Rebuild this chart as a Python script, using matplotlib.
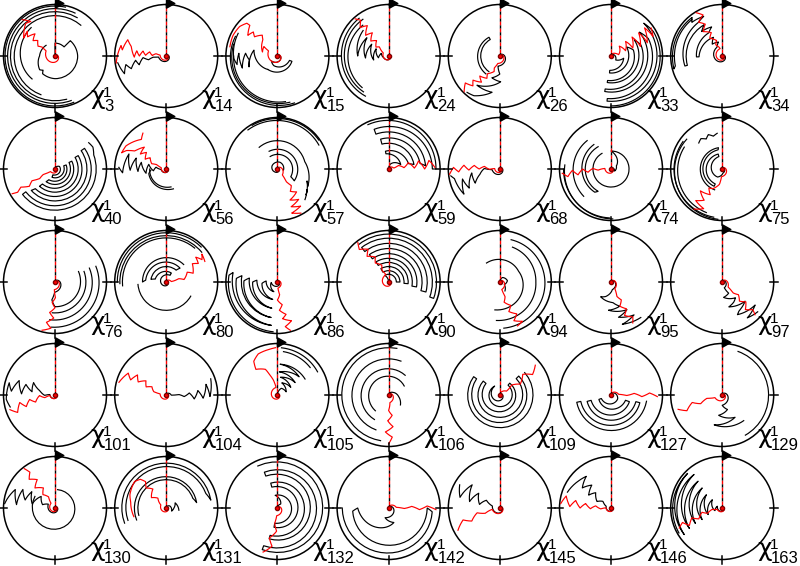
import numpy as np
import matplotlib.pyplot as plt
from matplotlib.path import Path

plt.rcParams['font.family'] = ['Liberation Sans', 'DejaVu Sans']

# residue numbers, in reading order (5 rows x 7 columns)
residues = [3, 14, 15, 24, 26, 33, 34,
            40, 56, 57, 59, 68, 74, 75,
            76, 80, 86, 90, 94, 95, 97,
            101, 104, 105, 106, 109, 127, 129,
            130, 131, 132, 142, 145, 146, 163]

# trajectories as (angle in degrees clockwise from top, radius 0..1)
chi3_red = [(0, 0), (300, 0.2), (305, 0.3), (300, 0.38), (312, 0.45), (305, 0.52), (318, 0.58), (305, 0.65),
            (312, 0.72), (300, 0.7), (318, 0.85), (325, 0.82), (318, 0.95)]
chi3_black = [[(0, 0), (0, 0.25), (45, 0.25), (45, 0.42), (90, 0.44), (180, 0.44), (215, 0.42), (220, 0.36),
               (228, 0.4), (270, 0.3), (320, 0.27)],
              [(225, 0.63), (320, 0.72)], [(200, 0.8), (400, 0.78)], [(165, 0.87), (390, 0.86)],
              [(160, 0.92), (385, 0.92)], [(158, 0.97), (372, 0.97)]]

chi14_red = [(0, 0), (278, 0.12), (283, 0.2), (272, 0.27), (284, 0.33), (272, 0.4), (282, 0.46), (270, 0.52),
             (280, 0.58), (268, 0.62), (285, 0.7), (293, 0.81), (278, 0.86), (283, 0.9), (262, 0.98)]
chi14_black = [[(0, 0), (262, 0.15), (265, 0.25), (258, 0.35), (266, 0.45), (252, 0.55), (262, 0.6), (250, 0.72),
                (258, 0.8), (247, 0.88), (262, 0.95)]]

chi15_red = [(0, 0), (300, 0.2), (305, 0.32), (285, 0.3), (318, 0.42), (324, 0.5), (310, 0.58), (315, 0.66),
             (305, 0.7), (318, 0.8), (317, 0.87), (308, 0.93), (295, 0.95), (281, 0.94)]
chi15_black = [[(0, 0), (230, 0.15), (200, 0.2), (110, 0.25), (110, 0.3), (215, 0.32)],
               [(215, 0.32), (234, 0.36), (284, 0.47), (249, 0.59), (262, 0.55), (275, 0.62), (251, 0.72),
                (274, 0.75), (258, 0.8), (267, 0.85), (300, 0.88)],
               [(295, 0.9), (160, 0.97)], [(285, 0.88), (165, 0.93)], [(270, 0.85), (170, 0.9)]]

chi24_red = [(0, 0), (300, 0.12), (315, 0.25), (305, 0.3), (322, 0.38), (310, 0.45), (325, 0.55), (312, 0.6),
             (325, 0.72), (315, 0.78), (322, 0.88), (318, 0.97)]
chi24_black = [[(0, 0), (250, 0.1), (290, 0.15), (260, 0.2), (300, 0.28), (255, 0.3), (305, 0.4), (265, 0.45),
                (310, 0.55), (270, 0.6), (315, 0.7)],
               [(320, 0.78), (220, 0.8)], [(325, 0.87), (215, 0.85)], [(322, 0.93), (210, 0.9)]]

chi26_red = [(0, 0), (195, 0.15), (205, 0.25), (200, 0.32), (215, 0.42), (210, 0.5), (225, 0.55), (215, 0.62),
             (228, 0.7), (222, 0.78), (232, 0.85), (225, 0.98)]
chi26_black = [[(215, 0.37), (330, 0.37), (330, 0.42), (218, 0.44)],
               [(0, 0), (190, 0.2), (180, 0.35), (200, 0.45), (178, 0.5), (218, 0.72), (192, 0.72), (213, 0.92),
                (222, 0.95)]]

chi33_red = [(0, 0), (60, 0.1), (80, 0.15), (40, 0.25), (70, 0.3), (45, 0.4), (70, 0.45), (48, 0.55), (72, 0.6),
             (50, 0.7), (70, 0.75), (50, 0.85), (65, 0.9), (55, 0.95)]
chi33_black = [[(0, 0), (130, 0.12), (100, 0.25), (185, 0.28), (185, 0.33), (60, 0.35), (75, 0.45), (188, 0.48),
                (188, 0.52), (55, 0.55), (70, 0.62), (190, 0.65), (190, 0.7), (50, 0.72), (65, 0.8), (185, 0.83),
                (185, 0.88), (45, 0.9), (60, 0.95), (180, 0.97)]]

chi34_red = [(0, 0), (345, 0.15), (330, 0.25), (340, 0.32), (325, 0.42), (335, 0.5), (322, 0.6), (332, 0.7),
             (325, 0.8), (335, 0.88), (329, 0.98)]
chi34_black = [[(0, 0), (330, 0.2), (345, 0.28), (320, 0.3), (335, 0.4), (268, 0.45), (268, 0.5), (330, 0.52),
                (340, 0.6), (320, 0.62), (330, 0.7), (255, 0.7), (255, 0.75), (325, 0.8), (335, 0.85),
                (318, 0.88), (322, 0.95), (255, 0.97), (258, 0.93), (320, 0.92)]]

chi40_red = [(0, 0), (240, 0.1), (245, 0.25), (238, 0.35), (243, 0.5), (236, 0.6), (242, 0.75), (238, 0.85),
             (240, 0.96)]
chi40_black = [[(0, 0), (60, 0.1), (200, 0.12), (200, 0.17), (70, 0.18), (70, 0.23), (210, 0.24), (215, 0.3),
                (65, 0.3), (65, 0.36), (220, 0.38), (222, 0.45), (60, 0.45), (60, 0.52), (225, 0.54),
                (228, 0.62), (55, 0.62), (55, 0.7), (232, 0.72), (232, 0.8), (70, 0.8), (60, 0.85), (52, 0.83)]]

chi56_red = [(0, 0), (285, 0.1), (295, 0.2), (290, 0.3), (305, 0.38), (295, 0.45), (310, 0.5), (300, 0.58),
             (315, 0.6), (300, 0.7), (295, 0.85), (290, 0.92), (300, 0.9), (320, 0.75), (327, 0.83)]
chi56_black = [[(0, 0), (265, 0.1), (280, 0.2), (262, 0.25), (285, 0.35), (258, 0.4), (285, 0.5), (265, 0.55),
                (290, 0.62), (268, 0.7), (292, 0.78), (265, 0.85), (272, 0.92)],
               [(265, 0.3), (255, 0.35), (160, 0.41)], [(270, 0.32), (165, 0.36)]]

chi57_red = [(0, 0), (140, 0.15), (145, 0.3), (140, 0.42), (150, 0.5), (140, 0.58), (158, 0.65), (145, 0.72),
             (160, 0.78), (148, 0.85), (162, 0.9), (152, 0.97)]
chi57_black = [[(0, 0), (230, 0.08), (300, 0.12), (380, 0.14), (460, 0.12)],
               [(-30, 0.28), (120, 0.3), (125, 0.4), (-25, 0.38)],
               [(-40, 0.55), (75, 0.55), (120, 0.68), (112, 0.62), (132, 0.75), (125, 0.7), (138, 0.8)],
               [(-37, 0.95), (60, 0.93)], [(-30, 0.98), (55, 0.98)]]

chi59_red = [(0, 0), (80, 0.1), (70, 0.2), (85, 0.3), (72, 0.4), (88, 0.5), (75, 0.6), (90, 0.7), (78, 0.8),
             (88, 0.9)]
chi59_black = [[(0, 0), (20, 0.1), (70, 0.25), (-10, 0.3), (-10, 0.35), (75, 0.4), (80, 0.5), (-15, 0.5),
                (-15, 0.6), (80, 0.62), (85, 0.72), (-20, 0.72), (-20, 0.82), (90, 0.85), (90, 0.92),
                (-25, 0.95)]]

chi68_red = [(0, 0), (275, 0.1), (268, 0.2), (280, 0.3), (270, 0.4), (278, 0.5), (268, 0.6), (276, 0.7),
             (266, 0.8), (272, 0.9), (264, 0.98)]
chi68_black = [[(0, 0), (265, 0.15), (272, 0.3), (255, 0.4), (240, 0.55), (262, 0.55), (238, 0.7), (255, 0.75),
                (235, 0.85), (258, 0.9), (262, 0.96)]]

chi74_red = [(0, 0), (275, 0.12), (265, 0.25), (272, 0.35), (262, 0.45), (270, 0.55), (260, 0.65), (268, 0.75),
             (260, 0.85), (265, 0.95)]
chi74_black = [[(0, 0), (120, 0.08), (60, 0.12), (0, 0.35), (330, 0.35)],
               [(330, 0.5), (210, 0.5), (215, 0.55), (325, 0.58)], [(320, 0.72), (225, 0.75)],
               [(275, 0.9), (178, 0.97)], [(270, 0.92), (182, 0.95)]]

chi75_red = [(0, 0), (185, 0.15), (190, 0.3), (200, 0.38), (205, 0.42), (215, 0.45), (205, 0.55), (225, 0.6),
             (210, 0.7), (220, 0.8), (205, 0.85), (215, 0.95)]
chi75_black = [[(0, 0), (170, 0.08), (210, 0.18), (345, 0.25), (345, 0.3), (205, 0.32), (205, 0.37), (348, 0.38),
                (350, 0.42), (200, 0.43)],
               [(318, 0.68), (325, 0.72), (332, 0.66), (338, 0.72), (345, 0.66), (352, 0.7)],
               [(310, 0.9), (185, 0.98)], [(305, 0.93), (190, 0.95)], [(300, 0.85), (200, 0.9)]]

chi76_red = [(0, 0), (185, 0.15), (178, 0.3), (188, 0.4), (180, 0.5), (190, 0.6), (182, 0.7), (192, 0.8),
             (185, 0.9), (195, 0.97)]
chi76_black = [[(0, 0), (182, 0.2), (190, 0.35), (180, 0.48), (66, 0.5)], [(70, 0.6), (185, 0.6)],
               [(68, 0.72), (188, 0.74)], [(69, 0.85), (185, 0.88)]]

chi80_red = [(0, 0), (85, 0.1), (75, 0.25), (82, 0.35), (65, 0.45), (72, 0.55), (55, 0.62), (60, 0.72), (50, 0.75),
             (58, 0.82), (52, 0.88), (62, 0.85)]
chi80_black = [[(0, 0), (300, 0.12), (390, 0.15), (390, 0.2), (285, 0.22), (280, 0.3), (400, 0.3), (405, 0.38),
                (275, 0.4), (270, 0.46), (405, 0.48)],
               [(265, 0.55), (120, 0.55)],
               [(265, 0.85), (400, 0.86)], [(268, 0.9), (410, 0.9)], [(270, 0.95), (405, 0.96)]]

chi86_red = [(0, 0), (175, 0.12), (170, 0.25), (180, 0.35), (168, 0.45), (176, 0.55), (165, 0.65), (172, 0.72),
             (160, 0.8), (170, 0.88), (165, 0.97)]
chi86_black = [[(0, 0), (265, 0.12), (200, 0.2), (275, 0.22), (265, 0.3), (195, 0.35), (275, 0.4), (270, 0.48),
                (192, 0.52), (278, 0.55), (272, 0.65), (190, 0.7), (280, 0.7), (275, 0.8), (188, 0.85),
                (282, 0.88), (278, 0.95), (185, 0.97)]]

chi90_red = [(0, 0), (340, 0.15), (330, 0.25), (338, 0.35), (325, 0.45), (332, 0.55), (320, 0.65), (328, 0.75),
             (318, 0.85), (322, 0.97)]
chi90_black = [[(0, 0), (-30, 0.15), (90, 0.15), (90, 0.22), (-30, 0.22), (-30, 0.3), (95, 0.3), (95, 0.38),
                (-32, 0.38), (-32, 0.46), (100, 0.46), (100, 0.55), (-35, 0.55), (-35, 0.65), (105, 0.65),
                (105, 0.75), (-38, 0.75), (-38, 0.85), (110, 0.85), (110, 0.93), (-38, 0.93)]]

chi94_red = [(0, 0), (165, 0.15), (160, 0.3), (168, 0.4), (155, 0.5), (163, 0.6), (152, 0.7), (160, 0.8),
             (150, 0.88), (158, 0.92)]
chi94_black = [[(0, 0), (30, 0.1), (80, 0.15), (120, 0.1), (150, 0.2)],
               [(325, 0.45), (420, 0.42), (550, 0.55)], [(380, 0.72), (450, 0.7), (545, 0.75)],
               [(375, 0.85), (460, 0.88), (535, 0.9)]]

chi95_red = [(0, 0), (150, 0.15), (158, 0.3), (150, 0.4), (160, 0.5), (150, 0.6), (158, 0.7), (148, 0.8),
             (152, 0.9)]
chi95_black = [[(0, 0), (170, 0.15), (200, 0.3), (215, 0.35), (175, 0.4), (160, 0.5), (185, 0.55), (150, 0.62),
                (168, 0.7), (145, 0.78), (165, 0.85), (140, 0.9)]]

chi97_red = [(0, 0), (130, 0.15), (135, 0.3), (128, 0.4), (138, 0.5), (130, 0.6), (140, 0.7), (132, 0.8),
             (135, 0.9)]
chi97_black = [[(0, 0), (160, 0.12), (150, 0.25), (175, 0.3), (140, 0.4), (150, 0.45), (165, 0.5), (130, 0.58),
                (150, 0.65), (155, 0.7), (125, 0.78), (145, 0.85), (130, 0.9)]]

chi101_red = [(0, 0), (265, 0.1), (255, 0.2), (268, 0.3), (250, 0.4), (260, 0.5), (248, 0.6), (258, 0.7),
              (245, 0.8), (252, 0.92)]
chi101_black = [[(0, 0), (275, 0.1), (268, 0.2), (285, 0.3), (300, 0.48), (278, 0.45), (290, 0.6), (272, 0.65),
                 (292, 0.75), (275, 0.85), (285, 0.92), (265, 0.95), (255, 0.9)]]

chi104_red = [(0, 0), (280, 0.12), (285, 0.25), (300, 0.32), (292, 0.42), (305, 0.48), (295, 0.6), (305, 0.68),
              (293, 0.75), (300, 0.85), (285, 0.95)]
chi104_black = [[(0, 0), (92, 0.1), (88, 0.25), (95, 0.35), (85, 0.45), (98, 0.55), (82, 0.62), (95, 0.72),
                 (75, 0.8), (92, 0.85), (70, 0.92)]]

chi105_red = [(0, 0), (350, 0.15), (345, 0.3), (340, 0.4), (335, 0.55), (320, 0.65), (325, 0.8), (335, 0.88),
              (350, 0.9), (358, 0.92)]
chi105_black = [[(0, 0), (30, 0.15), (70, 0.18), (20, 0.25), (60, 0.3), (10, 0.35), (55, 0.42), (5, 0.45),
                 (50, 0.55), (5, 0.6), (60, 0.62)],
                [(5, 0.92), (60, 0.9)], [(8, 0.85), (50, 0.83)]]

chi106_red = [(0, 0), (170, 0.15), (180, 0.3), (170, 0.4), (182, 0.5), (172, 0.62), (185, 0.72), (175, 0.82),
              (180, 0.95)]
chi106_black = [[(0, 0), (60, 0.1), (100, 0.2), (130, 0.3)],
                [(10, 0.92), (-170, 0.9)], [(20, 0.7), (-160, 0.72)], [(40, 0.5), (-150, 0.55)],
                [(60, 0.35), (-140, 0.4)]]

chi109_red = [(0, 0), (60, 0.15), (50, 0.3), (62, 0.45), (48, 0.6), (58, 0.75), (50, 0.9)]
chi109_black = [[(0, 0), (330, 0.2), (40, 0.25), (40, 0.3), (310, 0.35), (310, 0.42), (45, 0.45), (45, 0.52),
                 (305, 0.55), (305, 0.62), (48, 0.65)]]

chi127_red = [(0, 0), (85, 0.15), (92, 0.3), (86, 0.45), (93, 0.6), (87, 0.75), (92, 0.9)]
chi127_black = [[(0, 0), (120, 0.15), (250, 0.2), (250, 0.25), (110, 0.3), (110, 0.38), (255, 0.4), (255, 0.48),
                 (105, 0.5), (105, 0.58), (258, 0.6), (258, 0.68), (100, 0.7)]]

chi129_red = [(0, 0), (250, 0.15), (258, 0.3), (248, 0.45), (256, 0.6), (246, 0.75), (252, 0.9)]
chi129_black = [[(0, 0), (180, 0.2), (160, 0.3), (190, 0.4), (150, 0.5), (195, 0.6), (140, 0.65)],
                [(20, 0.9), (150, 0.9)]]

chi130_red = [(0, 0), (320, 0.12), (330, 0.25), (318, 0.35), (330, 0.45), (315, 0.55), (328, 0.65), (318, 0.75),
              (325, 0.85), (322, 0.97)]
chi130_black = [[(0, 0), (300, 0.15), (285, 0.25), (310, 0.35), (280, 0.45), (305, 0.55), (285, 0.6), (300, 0.72),
                 (275, 0.75), (295, 0.85), (280, 0.95), (275, 0.98)],
                [(8, 0.36), (300, 0.45)]]

chi131_red = [(0, 0), (300, 0.12), (320, 0.25), (305, 0.35), (325, 0.45), (315, 0.55), (322, 0.65), (318, 0.75),
              (310, 0.8), (290, 0.75), (280, 0.7), (255, 0.65)]
chi131_black = [[(0, 0), (60, 0.08), (120, 0.12), (90, 0.15), (60, 0.2), (100, 0.25)],
                [(255, 0.55), (430, 0.55), (440, 0.6), (248, 0.62)],
                [(252, 0.78), (430, 0.82), (440, 0.88), (250, 0.86)]]

chi132_red = [(0, 0), (185, 0.15), (190, 0.3), (182, 0.45), (195, 0.6), (188, 0.75), (198, 0.9)]
chi132_black = [[(0, 0), (40, 0.1), (-10, 0.25), (190, 0.3), (190, 0.38), (-15, 0.42), (-15, 0.5), (195, 0.55),
                 (195, 0.62), (-20, 0.66), (-20, 0.74), (200, 0.78), (200, 0.86), (-25, 0.9)]]

chi142_red = [(0, 0), (85, 0.15), (92, 0.3), (86, 0.45), (93, 0.6), (87, 0.75), (92, 0.92)]
chi142_black = [[(0, 0), (200, 0.2), (160, 0.3), (270, 0.6), (265, 0.7), (90, 0.75), (95, 0.85), (270, 0.9)]]

chi145_red = [(0, 0), (260, 0.15), (250, 0.3), (258, 0.45), (245, 0.6), (252, 0.75), (242, 0.92)]
chi145_black = [[(0, 0), (285, 0.15), (300, 0.3), (280, 0.4), (305, 0.5), (282, 0.6), (310, 0.7), (285, 0.8),
                 (300, 0.9)]]

chi146_red = [(0, 0), (272, 0.1), (265, 0.2), (278, 0.3), (268, 0.4), (280, 0.5), (270, 0.6), (282, 0.7),
              (272, 0.8), (285, 0.9), (275, 0.98)]
chi146_black = [[(0, 0), (290, 0.1), (310, 0.2), (295, 0.3), (315, 0.42), (300, 0.5), (320, 0.58), (305, 0.68),
                 (322, 0.78), (310, 0.82), (290, 0.9)]]

chi163_red = [(0, 0), (255, 0.1), (262, 0.2), (250, 0.3), (258, 0.4), (245, 0.5), (252, 0.62), (242, 0.72),
              (250, 0.82), (245, 0.92)]
chi163_black = [[(0, 0), (290, 0.1), (250, 0.15), (310, 0.25), (245, 0.3), (310, 0.4), (240, 0.45), (315, 0.55),
                 (240, 0.6), (318, 0.7), (238, 0.75), (320, 0.85), (235, 0.9), (315, 0.95), (240, 0.97)]]

red_paths = [chi3_red, chi14_red, chi15_red, chi24_red, chi26_red, chi33_red, chi34_red,
             chi40_red, chi56_red, chi57_red, chi59_red, chi68_red, chi74_red, chi75_red,
             chi76_red, chi80_red, chi86_red, chi90_red, chi94_red, chi95_red, chi97_red,
             chi101_red, chi104_red, chi105_red, chi106_red, chi109_red, chi127_red, chi129_red,
             chi130_red, chi131_red, chi132_red, chi142_red, chi145_red, chi146_red, chi163_red]
black_paths = [chi3_black, chi14_black, chi15_black, chi24_black, chi26_black, chi33_black, chi34_black,
               chi40_black, chi56_black, chi57_black, chi59_black, chi68_black, chi74_black, chi75_black,
               chi76_black, chi80_black, chi86_black, chi90_black, chi94_black, chi95_black, chi97_black,
               chi101_black, chi104_black, chi105_black, chi106_black, chi109_black, chi127_black, chi129_black,
               chi130_black, chi131_black, chi132_black, chi142_black, chi145_black, chi146_black, chi163_black]

tick_angles = [90, 180, 270]

W, H = 800, 566
fig = plt.figure(figsize=(W / 100, H / 100), dpi=100)

flag = Path([(0, -1), (0, 1), (1.8, 0), (0, -1)], [Path.MOVETO, Path.LINETO, Path.LINETO, Path.CLOSEPOLY])


def trace(ax, pts, color, lw=0.85, z=2):
    th = np.radians([p[0] for p in pts])
    r = [p[1] for p in pts]
    ln, = ax.plot(th, r, color=color, lw=lw, zorder=z)
    ln.get_path()._interpolation_steps = 24  # let the polar transform draw arcs
    return ln


def fig_xy(px, py):
    return px / W, 1 - py / H


rad = 51.5
for k, res in enumerate(residues):
    row, col = divmod(k, 7)
    cx = 55 + 111.2 * col
    cy = 56 + 113 * row
    ax = fig.add_axes([(cx - rad) / W, 1 - (cy + rad) / H, 2 * rad / W, 2 * rad / H], projection='polar')
    ax.set_theta_zero_location('N')
    ax.set_theta_direction(-1)
    ax.set_ylim(0, 1)
    ax.set_yticks([])
    ax.set_xticks([])
    ax.grid(False)
    ax.spines['polar'].set_linewidth(1.1)

    # short radial ticks across the rim
    for a in tick_angles:
        ax.plot([np.radians(a)] * 2, [0.93, 1.08], color='black', lw=1.1, clip_on=False, zorder=4)

    for seg in black_paths[k]:
        trace(ax, seg, 'black', z=2)
    trace(ax, red_paths[k], 'red', z=3)

    # start marker: dashed pole with flag, dot at the centre
    ax.plot([0, 0], [0, 1.07], color='black', lw=1, ls=(0, (2.5, 2.5)), zorder=4, clip_on=False)
    ax.plot([0, 0], [0, 1.0], color='red', lw=1, ls=(2.5, (2.5, 2.5)), zorder=4)
    ax.plot([0], [1.03], marker=flag, ms=12, color='black', zorder=5, clip_on=False)
    ax.plot([0], [0], marker='o', ms=3, color='red', mec='#800000', zorder=5)

    # label: chi, superscript 1, subscript residue number
    fig.text(*fig_xy(cx + 35, cy + 48), '\u03c7', fontsize=18, family='DejaVu Sans', va='baseline', ha='left')
    fig.text(*fig_xy(cx + 48, cy + 41), '1', fontsize=11, va='baseline', ha='left')
    fig.text(*fig_xy(cx + 49, cy + 55), str(res), fontsize=12, va='baseline', ha='left')

fig.savefig('out.png', dpi=100)
